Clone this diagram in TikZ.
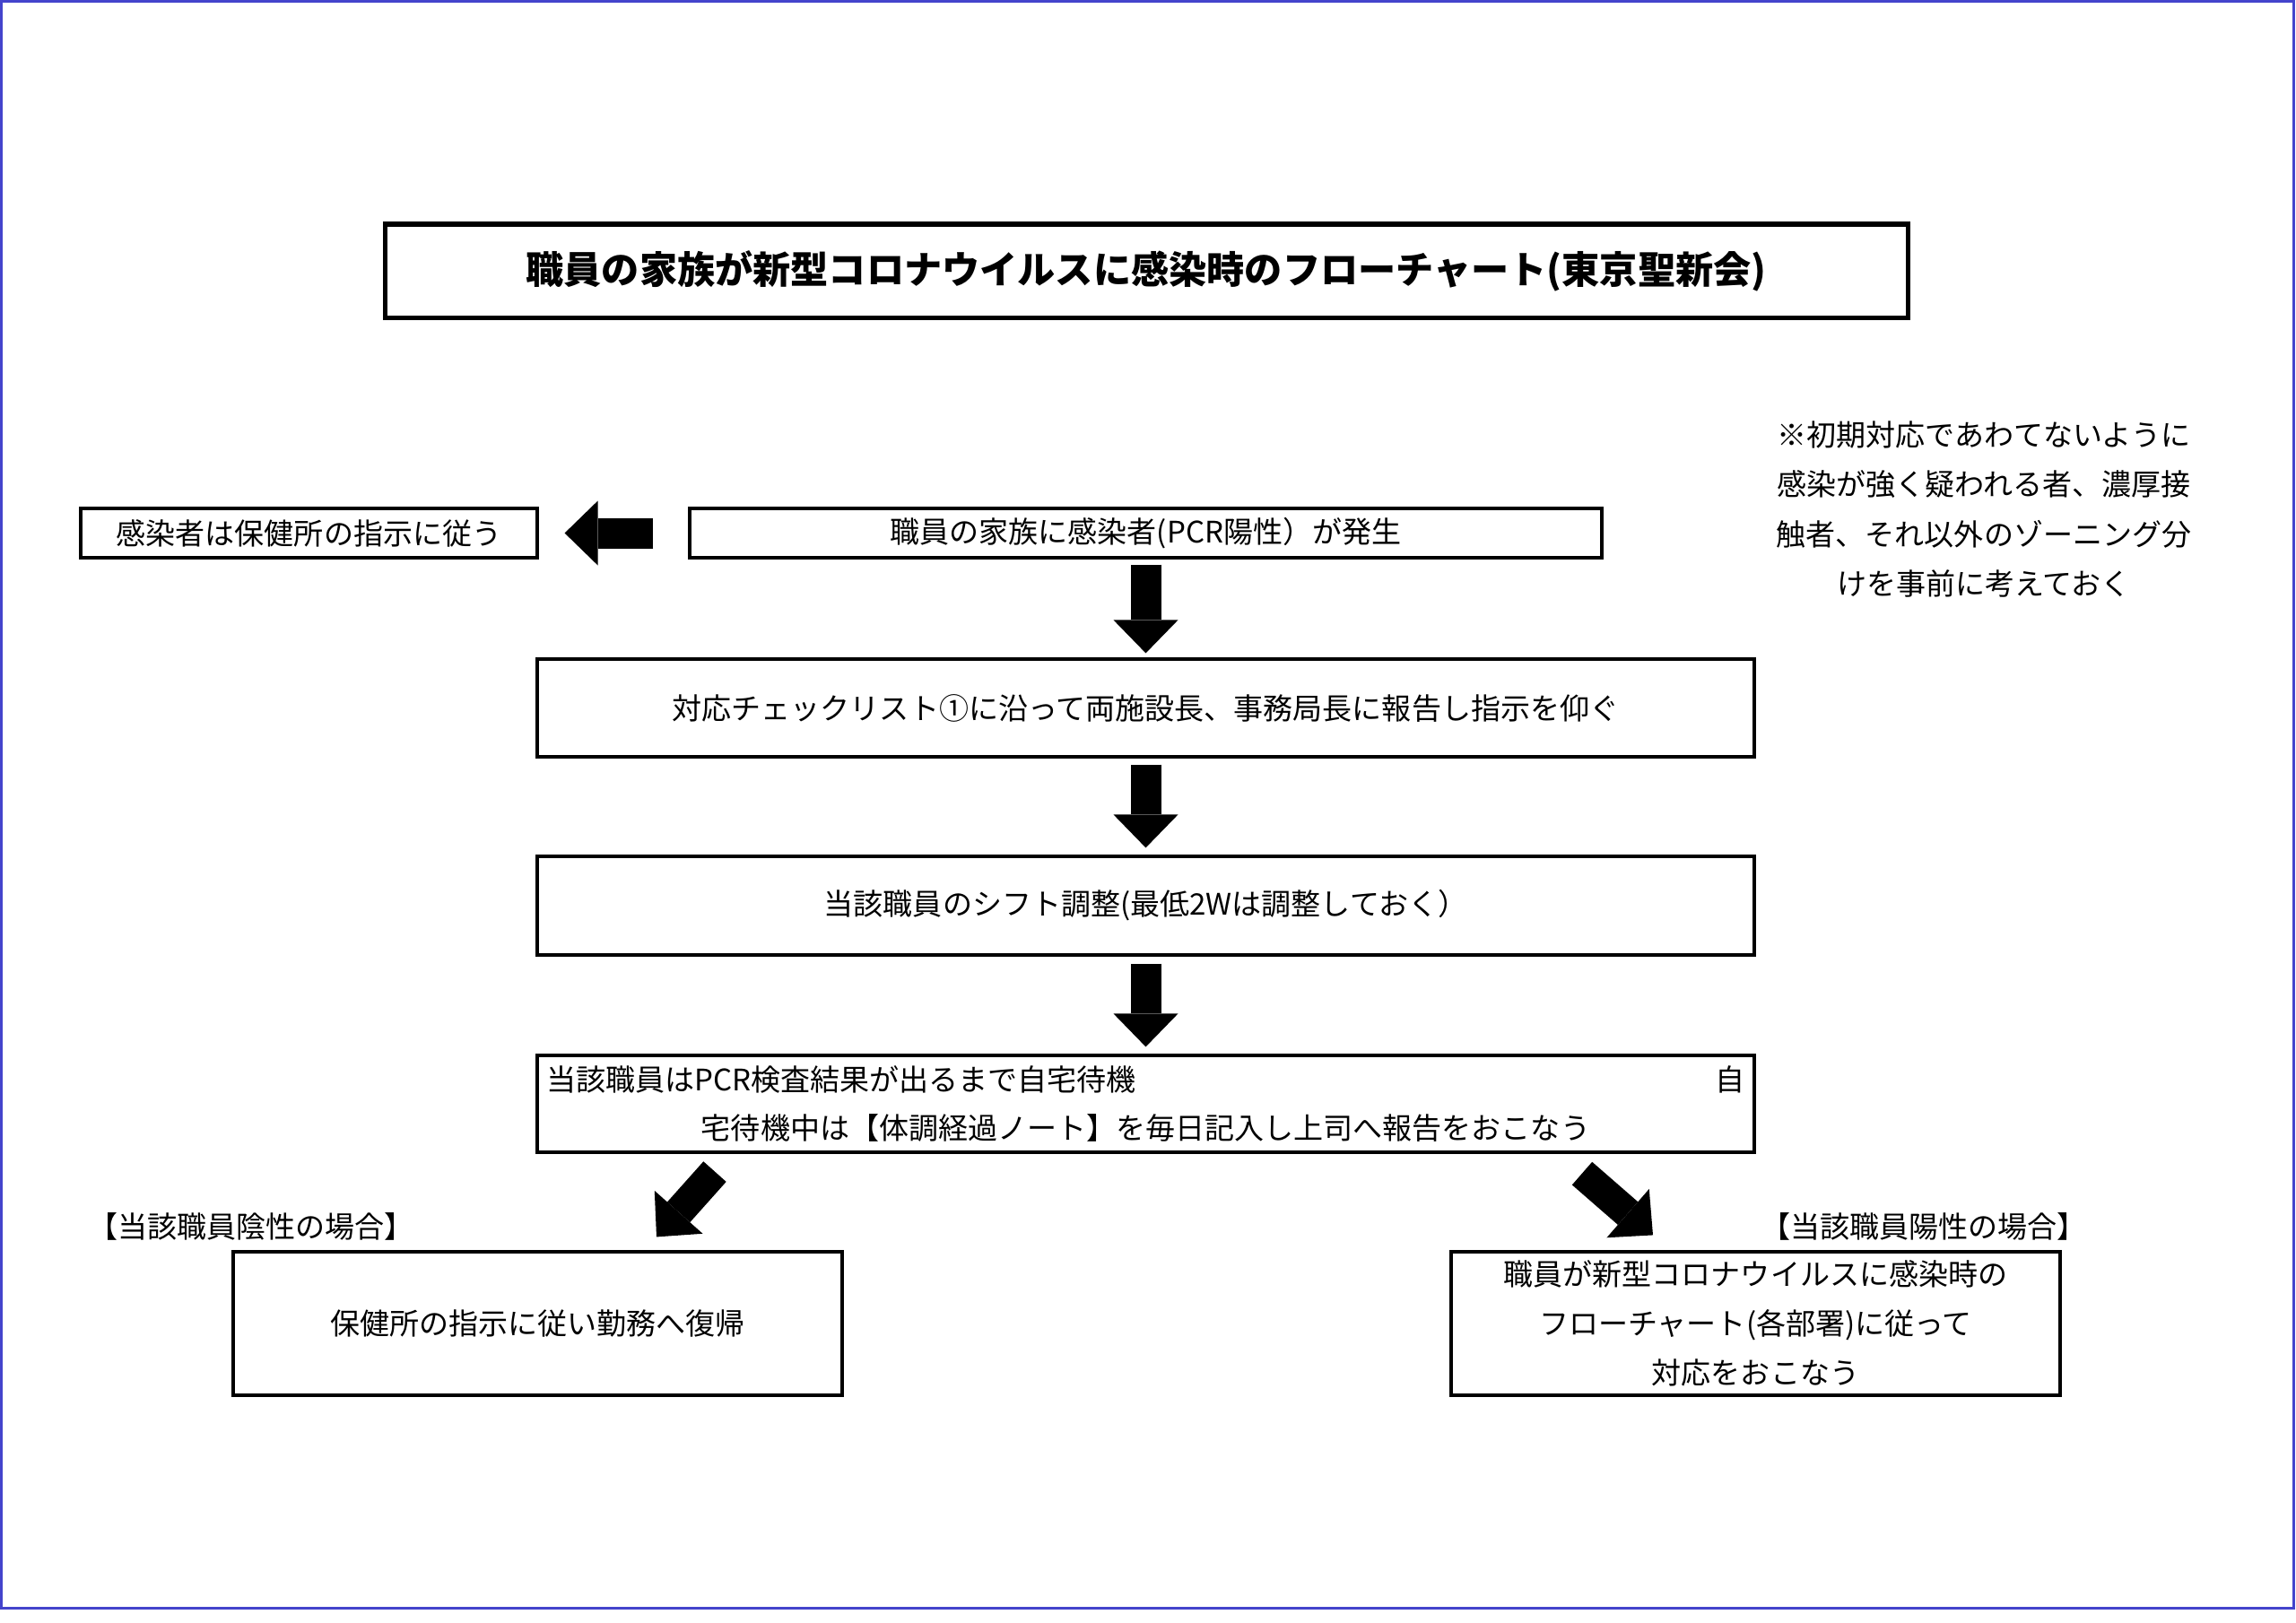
\documentclass[tikz,border=0pt]{standalone}
\usepackage{fontspec}
\setmainfont{Noto Sans CJK JP}
\usetikzlibrary{arrows.meta, calc, positioning}
\definecolor{frameblue}{RGB}{68,68,204}

\begin{document}
\begin{tikzpicture}[x=1cm, y=-1cm,
    box/.style={draw, line width=0.9pt, inner sep=0pt, align=center,
                font=\fontsize{9.4}{15.6}\selectfont},
    bigarrow/.style={line width=0.34cm,
                -{Triangle[length=0.37cm, width=0.72cm, line width=0pt]}},
    plain/.style={inner sep=0pt, align=center, font=\fontsize{9.4}{15.7}\selectfont}]
    \useasboundingbox (0,0) rectangle (25.6,18.1);
    % page frame
    \draw[frameblue, line width=0.03cm] (0.015,0.015) rectangle (25.57,17.93);

    % Title box
    \node[draw, line width=0.05cm, minimum width=16.98cm, minimum height=1.04cm,
          font=\fontsize{12}{14}\selectfont\bfseries] (title) at (12.78,3.02)
          {職員の家族が新型コロナウイルスに感染時のフローチャート(東京聖新会)};

    % note on the right
    \node[plain] (note) at (22.12,5.68)
          {※初期対応であわてないように\\感染が強く疑われる者、濃厚接\\触者、それ以外のゾーニング分\\けを事前に考えておく};

    % first row
    \node[box, minimum width=10.17cm, minimum height=0.55cm] (occur) at (12.775,5.945)
          {職員の家族に感染者(PCR陽性）が発生};
    \node[box, minimum width=5.09cm, minimum height=0.55cm] (infected) at (3.445,5.945)
          {感染者は保健所の指示に従う};

    % steps
    \node[box, minimum width=13.57cm, minimum height=1.09cm] (report) at (12.775,7.895)
          {対応チェックリスト①に沿って両施設長、事務局長に報告し指示を仰ぐ};
    \node[box, minimum width=13.57cm, minimum height=1.10cm] (shift) at (12.775,10.10)
          {当該職員のシフト調整(最低2Wは調整しておく）};
    \node[box, minimum width=13.57cm, minimum height=1.08cm, text width=13.37cm] (wait) at (12.775,12.31)
          {当該職員はPCR検査結果が出るまで自宅待機\hskip 0pt plus 1fill 自\\宅待機中は【体調経過ノート】を毎日記入し上司へ報告をおこなう};

    % results
    \node[plain] (neglabel) at (2.80,13.68) {【当該職員陰性の場合】};
    \node[box, minimum width=6.79cm, minimum height=1.60cm] (neg) at (5.995,14.76)
          {保健所の指示に従い勤務へ復帰};
    \node[plain] (poslabel) at (21.45,13.68) {【当該職員陽性の場合】};
    \node[box, minimum width=6.79cm, minimum height=1.60cm] (pos) at (19.575,14.76)
          {職員が新型コロナウイルスに感染時の\\フローチャート(各部署)に従って\\対応をおこなう};

    % block arrows
    \draw[bigarrow, shorten <=0.39cm, shorten >=0.29cm] (occur.west) -- (infected.east);
    \draw[bigarrow, shorten <=0.06cm, shorten >=0.05cm] (occur.south) -- (report.north);
    \draw[bigarrow, shorten <=0.07cm, shorten >=0.08cm] (report.south) -- (shift.north);
    \draw[bigarrow, shorten <=0.08cm, shorten >=0.08cm] (shift.south) -- (wait.north);
    \draw[bigarrow] ([shift={(-4.805,0.20)}]wait.south) -- ([shift={(1.325,-0.15)}]neg.north);
    \draw[bigarrow] ([shift={(4.865,0.22)}]wait.south) -- ([shift={(-1.145,-0.17)}]pos.north);
\end{tikzpicture}
\end{document}
